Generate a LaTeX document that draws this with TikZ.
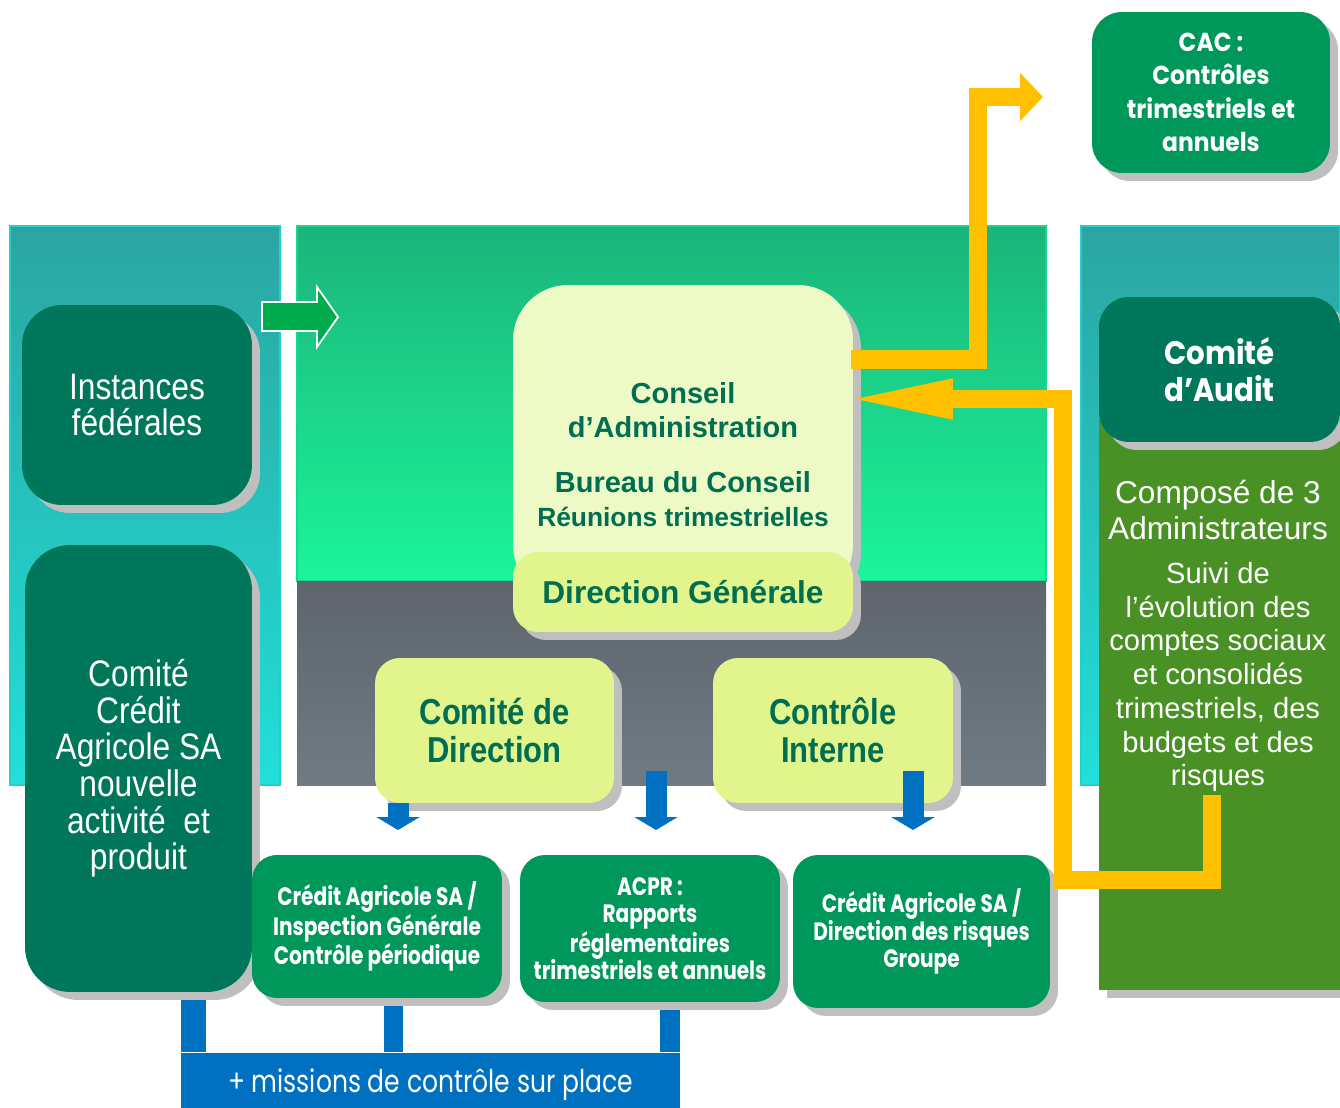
\documentclass[tikz,border=0pt]{standalone}
\usepackage{fontspec}
\setmainfont{Liberation Sans}
\newfontfamily\narrowsf{Liberation Sans}[FakeStretch=0.86]
\newfontfamily\gothic{Poppins}[FakeStretch=0.9]
\newfontfamily\gothicnarrow{Poppins}[FakeStretch=0.8]
\usetikzlibrary{positioning,arrows.meta,shadows,calc}

\definecolor{darkgreen}{HTML}{00775A}
\definecolor{textgreen}{HTML}{006E52}
\definecolor{midgreen}{HTML}{00975A}
\definecolor{paleyellow}{HTML}{EEFAC5}
\definecolor{limeyellow}{HTML}{E1F58C}
\definecolor{auditgreen}{HTML}{4A9125}
\definecolor{goldarrow}{HTML}{FFC000}
\definecolor{bluebar}{HTML}{0070C0}
\definecolor{arrowgreen}{HTML}{00AC4E}
\definecolor{shadowgray}{HTML}{BFBFBF}
\definecolor{tealtop}{HTML}{2BA5A1}
\definecolor{tealbot}{HTML}{22DFD9}
\definecolor{tealedge}{HTML}{22CFCF}
\definecolor{greentop}{HTML}{1BB47B}
\definecolor{greenbot}{HTML}{1BF59A}
\definecolor{greenedge}{HTML}{14D88C}
\definecolor{graytop}{HTML}{5E656C}
\definecolor{graybot}{HTML}{6F7B84}

\begin{document}
\begin{tikzpicture}[
            x=0.02cm, y=-0.02cm,
            box/.style={rounded corners=0.6cm, align=center, inner sep=0pt,
                drop shadow={shadow xshift=0.16cm, shadow yshift=-0.16cm, fill=shadowgray, opacity=1}},
            darkbox/.style={box, fill=darkgreen, text=white},
            midbox/.style={box, fill=midgreen, text=white, rounded corners=0.5cm,
                font=\gothicnarrow\bfseries\fontsize{14.3}{15.5}\selectfont},
            limebox/.style={box, fill=limeyellow, text=textgreen, rounded corners=0.5cm},
            panel/.style={line width=1pt},
            goldline/.style={draw=goldarrow, line width=0.37cm, line join=miter},
            downarrow/.style={draw=bluebar, line width=0.42cm, -{Triangle[length=0.26cm, width=0.86cm]}},
        ]
        \useasboundingbox (0,0) rectangle (1340,1108);

        % Background panels
        \shade[panel, top color=tealtop, bottom color=tealbot, draw=tealedge] (10,226) rectangle (280,785);
        \shade[panel, top color=greentop, bottom color=greenbot, draw=greenedge] (297,226) rectangle (1046,581);
        \shade[top color=graytop, bottom color=graybot] (297,581) rectangle (1046,785);
        \shade[panel, top color=tealtop, bottom color=tealbot, draw=tealedge] (1081,226) rectangle (1340,785);

        % Blue legs to the missions bar
        \node[fill=bluebar, text=white, minimum width=9.98cm, minimum height=1.3cm, inner sep=0pt,
            font=\gothicnarrow\fontsize{17.8}{20}\selectfont] (missions) at (430.5,1085) {+ missions de contrôle sur place};
        \foreach \x/\w [count=\i] in {193.5/0.5, 393.5/0.38, 670/0.4} {
            \coordinate (leg\i) at (\x,980);
            \draw[draw=bluebar, line width=\w cm] (leg\i) -- (leg\i |- missions.north);
        }

        % Left column
        \node[darkbox, minimum width=4.6cm, minimum height=4cm, rounded corners=0.8cm,
            font=\narrowsf\fontsize{21}{21}\selectfont] (inst) at (137,405) {Instances\\fédérales};
        \node[darkbox, minimum width=4.54cm, minimum height=8.94cm, rounded corners=0.9cm,
            font=\narrowsf\fontsize{21}{20.8}\selectfont] (ccsa) at (138.5,768.5)
            {Comité\\Crédit\\Agricole SA\\nouvelle\\activité~~et\\produit};

        % Green arrow
        \draw[fill=arrowgreen, draw=white, line width=1pt]
            (262,302) -- (317,302) -- (317,287) -- (338,317) -- (317,347) -- (317,331) -- (262,331) -- cycle;

        % Conseil and Direction Generale
        \node[box, fill=paleyellow, minimum width=6.8cm, minimum height=6.3cm, rounded corners=1.1cm] (conseil) at (683,442.5) {};
        \node[text=textgreen, align=center, font=\bfseries\fontsize{16.5}{19.3}\selectfont] (catext) at (683,410) {Conseil\\d’Administration};
        \node[text=textgreen, align=center, font=\bfseries\fontsize{16.5}{19.3}\selectfont] (bureau) at (683,499)
            {Bureau du Conseil\\{\fontsize{15}{17}\selectfont Réunions trimestrielles}};
        \node[limebox, minimum width=6.8cm, minimum height=1.6cm,
            font=\bfseries\fontsize{18}{20}\selectfont] (dg) at (683,592) {Direction Générale};

        % Comites
        \node[limebox, minimum width=4.78cm, minimum height=2.9cm,
            font=\narrowsf\bfseries\fontsize{20.5}{21.6}\selectfont] (cdd) at (494.5,730.5) {Comité de\\Direction};
        \node[limebox, minimum width=4.8cm, minimum height=2.9cm,
            font=\narrowsf\bfseries\fontsize{20.5}{21.6}\selectfont] (ci) at (833,730.5) {Contrôle\\Interne};

        % Bottom boxes
        \node[midbox, minimum width=5cm, minimum height=2.86cm] (ig) at (377,926.5)
            {Crédit Agricole SA /\\Inspection Générale\\Contrôle périodique};
        \node[midbox, minimum width=5.2cm, minimum height=2.94cm] (acpr) at (650,928.5)
            {ACPR :\\Rapports\\réglementaires\\trimestriels et annuels};
        \node[midbox, minimum width=5.14cm, minimum height=3.06cm] (drg) at (921.5,931.5)
            {Crédit Agricole SA /\\Direction des risques\\Groupe};

        % Blue down arrows
        \foreach \x/\y [count=\i] in {398/803, 656/771, 913/771} {
            \coordinate (down\i) at (\x,\y);
            \coordinate (tip\i) at (\x,830);
            \draw[downarrow] (down\i) -- (tip\i);
        }

        % CAC
        \node[midbox, minimum width=4.76cm, minimum height=3.22cm, rounded corners=0.6cm,
            font=\gothic\bfseries\fontsize{14.8}{19}\selectfont] (cac) at (1211,92.5)
            {CAC :\\Contrôles\\trimestriels et\\annuels};

        % Comite d'Audit
        \node[fill=auditgreen, minimum width=4.82cm, minimum height=11.4cm, inner sep=0pt,
            drop shadow={shadow xshift=0.16cm, shadow yshift=-0.16cm, fill=shadowgray, opacity=1}] (auditbody) at (1219.5,705) {};
        \node[darkbox, minimum width=4.82cm, minimum height=2.9cm,
            font=\gothic\bfseries\fontsize{18.5}{21}\selectfont] (audit) at (1219.5,369.5) {Comité\\d’Audit};
        \node[text=white, align=center, font=\fontsize{18}{20.5}\selectfont] (compo) at (1218,510) {Composé de 3\\Administrateurs};
        \node[text=white, align=center, font=\fontsize{16.6}{19.2}\selectfont] (suivi) at (1218,677)
            {Suivi de\\l’évolution des\\comptes sociaux\\et consolidés\\trimestriels, des\\budgets et des\\risques};

        % Yellow arrows
        \coordinate (cacin) at (1043,97);
        \coordinate (caout) at ($(conseil.north east)+(-2,75)$);
        \draw[goldline, -{Triangle[length=0.46cm, width=0.94cm]}] (caout) -| (978,97) -- (cacin);
        \coordinate (audsrc) at (1212,795);
        \coordinate (cain) at (839,399);
        \draw[goldline, -{Triangle[length=2.28cm, width=0.7cm]}] (audsrc) |- (1063,880) |- (cain);

    \end{tikzpicture}
\end{document}
